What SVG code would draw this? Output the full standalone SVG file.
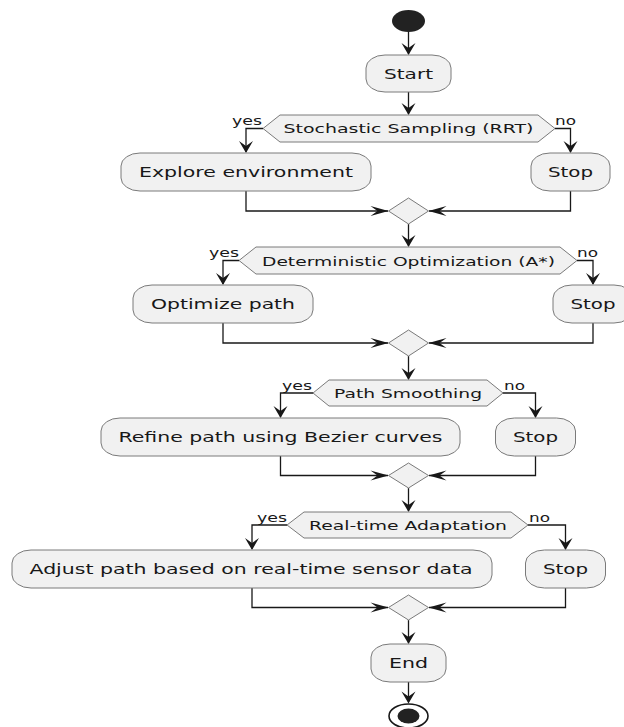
<svg xmlns="http://www.w3.org/2000/svg" xmlns:xlink="http://www.w3.org/1999/xlink" width="624" height="727" viewBox="0 0 624 727">
<style>
.box{fill:#F1F1F1;stroke:#7a7a7a;stroke-width:1}
.hex{fill:#F1F1F1;stroke:#7a7a7a;stroke-width:1}
.t{font-family:"DejaVu Sans",sans-serif;font-size:14px;fill:#181818;text-anchor:middle}
.ht{font-family:"DejaVu Sans",sans-serif;font-size:13px;fill:#181818;text-anchor:middle}
.lb{font-family:"DejaVu Sans",sans-serif;font-size:12.5px;fill:#181818}
.ln{fill:none;stroke:#181818;stroke-width:1.3}
.ah{fill:#181818;stroke:none}
</style>
<defs>
<path id="ad" class="ah" d="M0,0 L-7,-12 L0,-7 L7,-12 Z"/>
<path id="ar" class="ah" d="M0,0 L-18,-5 L-11,0 L-18,5 Z"/>
<path id="al" class="ah" d="M0,0 L18,-5 L11,0 L18,5 Z"/>
</defs>
<rect width="624" height="727" fill="#FFFFFF"/>

<g id="connectors">
<path class="ln" d="M408.5,32 V54"/><use href="#ad" x="408.5" y="55"/>
<path class="ln" d="M408.5,92 V114"/><use href="#ad" x="408.5" y="115"/>
<path class="ln" d="M263,128.5 H246 V152"/><use href="#ad" x="246" y="153"/>
<path class="ln" d="M555,128.5 H570.5 V152"/><use href="#ad" x="570.5" y="153"/>
<path class="ln" d="M246,191 V211 H388"/><use href="#ar" x="388.5" y="211"/>
<path class="ln" d="M570.5,191 V211 H429"/><use href="#al" x="428.5" y="211"/>
<path class="ln" d="M408.5,224 V246"/><use href="#ad" x="408.5" y="247"/>
<path class="ln" d="M239,260.5 H223 V284"/><use href="#ad" x="223" y="285"/>
<path class="ln" d="M577,260.5 H593 V284"/><use href="#ad" x="593" y="285"/>
<path class="ln" d="M223,323 V343 H388"/><use href="#ar" x="388.5" y="343"/>
<path class="ln" d="M593,323 V343 H429"/><use href="#al" x="428.5" y="343"/>
<path class="ln" d="M408.5,356 V379"/><use href="#ad" x="408.5" y="380"/>
<path class="ln" d="M313,393 H280.5 V417"/><use href="#ad" x="280.5" y="418"/>
<path class="ln" d="M503,393 H535.5 V417"/><use href="#ad" x="535.5" y="418"/>
<path class="ln" d="M280.5,456 V475.5 H388"/><use href="#ar" x="388.5" y="475.5"/>
<path class="ln" d="M535.5,456 V475.5 H429"/><use href="#al" x="428.5" y="475.5"/>
<path class="ln" d="M408.5,488 V511"/><use href="#ad" x="408.5" y="512"/>
<path class="ln" d="M287,525 H252 V549"/><use href="#ad" x="252" y="550"/>
<path class="ln" d="M528,525 H565.5 V549"/><use href="#ad" x="565.5" y="550"/>
<path class="ln" d="M252,588 V607.5 H388"/><use href="#ar" x="388.5" y="607.5"/>
<path class="ln" d="M565.5,588 V607.5 H429"/><use href="#al" x="428.5" y="607.5"/>
<path class="ln" d="M408.5,620 V643"/><use href="#ad" x="408.5" y="644"/>
<path class="ln" d="M408.5,682 V702"/><use href="#ad" x="408.5" y="703.5"/>
</g>

<g id="start"><ellipse cx="408.5" cy="21" rx="16.5" ry="11" fill="#222222"/></g>

<g id="n-start"><rect class="box" x="366" y="55" width="85" height="37" rx="19" ry="13"/><text class="t" x="408.5" y="78.5" textLength="49" lengthAdjust="spacingAndGlyphs">Start</text></g>

<g id="d1"><polygon class="hex" points="263,128.5 280,115 538,115 555,128.5 538,142 280,142"/><text class="ht" x="408.5" y="133" textLength="250" lengthAdjust="spacingAndGlyphs">Stochastic Sampling (RRT)</text>
<text class="lb" x="232" y="125" textLength="30" lengthAdjust="spacingAndGlyphs">yes</text><text class="lb" x="555" y="125" textLength="21" lengthAdjust="spacingAndGlyphs">no</text></g>

<g id="n-explore"><rect class="box" x="121" y="153" width="250" height="38" rx="19" ry="13"/><text class="t" x="246" y="177" textLength="214" lengthAdjust="spacingAndGlyphs">Explore environment</text></g>
<g id="n-stop1"><rect class="box" x="531" y="153" width="79" height="38" rx="19" ry="13"/><text class="t" x="570.5" y="177" textLength="45" lengthAdjust="spacingAndGlyphs">Stop</text></g>
<g id="m1"><polygon class="hex" points="408.5,198 428.5,211 408.5,224 388.5,211"/></g>

<g id="d2"><polygon class="hex" points="239,260.5 256,247 560,247 577,260.5 560,274 256,274"/><text class="ht" x="408.5" y="265.5" textLength="293" lengthAdjust="spacingAndGlyphs">Deterministic Optimization (A*)</text>
<text class="lb" x="209" y="257" textLength="30" lengthAdjust="spacingAndGlyphs">yes</text><text class="lb" x="577" y="257" textLength="21" lengthAdjust="spacingAndGlyphs">no</text></g>

<g id="n-optimize"><rect class="box" x="133" y="285" width="180" height="38" rx="19" ry="13"/><text class="t" x="223" y="309" textLength="144" lengthAdjust="spacingAndGlyphs">Optimize path</text></g>
<g id="n-stop2"><rect class="box" x="553" y="285" width="80" height="38" rx="19" ry="13"/><text class="t" x="593" y="309" textLength="45" lengthAdjust="spacingAndGlyphs">Stop</text></g>
<g id="m2"><polygon class="hex" points="408.5,330 428.5,343 408.5,356 388.5,343"/></g>

<g id="d3"><polygon class="hex" points="313,393 329,380 487,380 503,393 487,406 329,406"/><text class="ht" x="408" y="398" textLength="148" lengthAdjust="spacingAndGlyphs">Path Smoothing</text>
<text class="lb" x="282" y="389.5" textLength="30" lengthAdjust="spacingAndGlyphs">yes</text><text class="lb" x="504" y="389.5" textLength="21" lengthAdjust="spacingAndGlyphs">no</text></g>

<g id="n-refine"><rect class="box" x="101" y="418" width="359" height="38" rx="19" ry="13"/><text class="t" x="280.5" y="442" textLength="324" lengthAdjust="spacingAndGlyphs">Refine path using Bezier curves</text></g>
<g id="n-stop3"><rect class="box" x="495.5" y="418" width="80" height="38" rx="19" ry="13"/><text class="t" x="535.5" y="442" textLength="45" lengthAdjust="spacingAndGlyphs">Stop</text></g>
<g id="m3"><polygon class="hex" points="408.5,463 428.5,475.5 408.5,488 388.5,475.5"/></g>

<g id="d4"><polygon class="hex" points="287,525 304,512 511,512 528,525 511,538 304,538"/><text class="ht" x="408" y="530" textLength="198" lengthAdjust="spacingAndGlyphs">Real-time Adaptation</text>
<text class="lb" x="257" y="521.5" textLength="30" lengthAdjust="spacingAndGlyphs">yes</text><text class="lb" x="529" y="521.5" textLength="21" lengthAdjust="spacingAndGlyphs">no</text></g>

<g id="n-adjust"><rect class="box" x="12" y="550" width="480" height="38" rx="19" ry="13"/><text class="t" x="251" y="574" textLength="443" lengthAdjust="spacingAndGlyphs">Adjust path based on real-time sensor data</text></g>
<g id="n-stop4"><rect class="box" x="525.5" y="550" width="80" height="38" rx="19" ry="13"/><text class="t" x="565.5" y="574" textLength="45" lengthAdjust="spacingAndGlyphs">Stop</text></g>
<g id="m4"><polygon class="hex" points="408.5,595 428.5,607.5 408.5,620 388.5,607.5"/></g>

<g id="n-end"><rect class="box" x="371" y="644" width="75" height="38" rx="19" ry="13"/><text class="t" x="408.5" y="668" textLength="39" lengthAdjust="spacingAndGlyphs">End</text></g>

<g id="stop"><ellipse cx="408.5" cy="716" rx="19.5" ry="12" fill="#FFFFFF" stroke="#181818" stroke-width="1.6"/><ellipse cx="408.5" cy="716" rx="11" ry="7.5" fill="#222222"/></g>
</svg>
